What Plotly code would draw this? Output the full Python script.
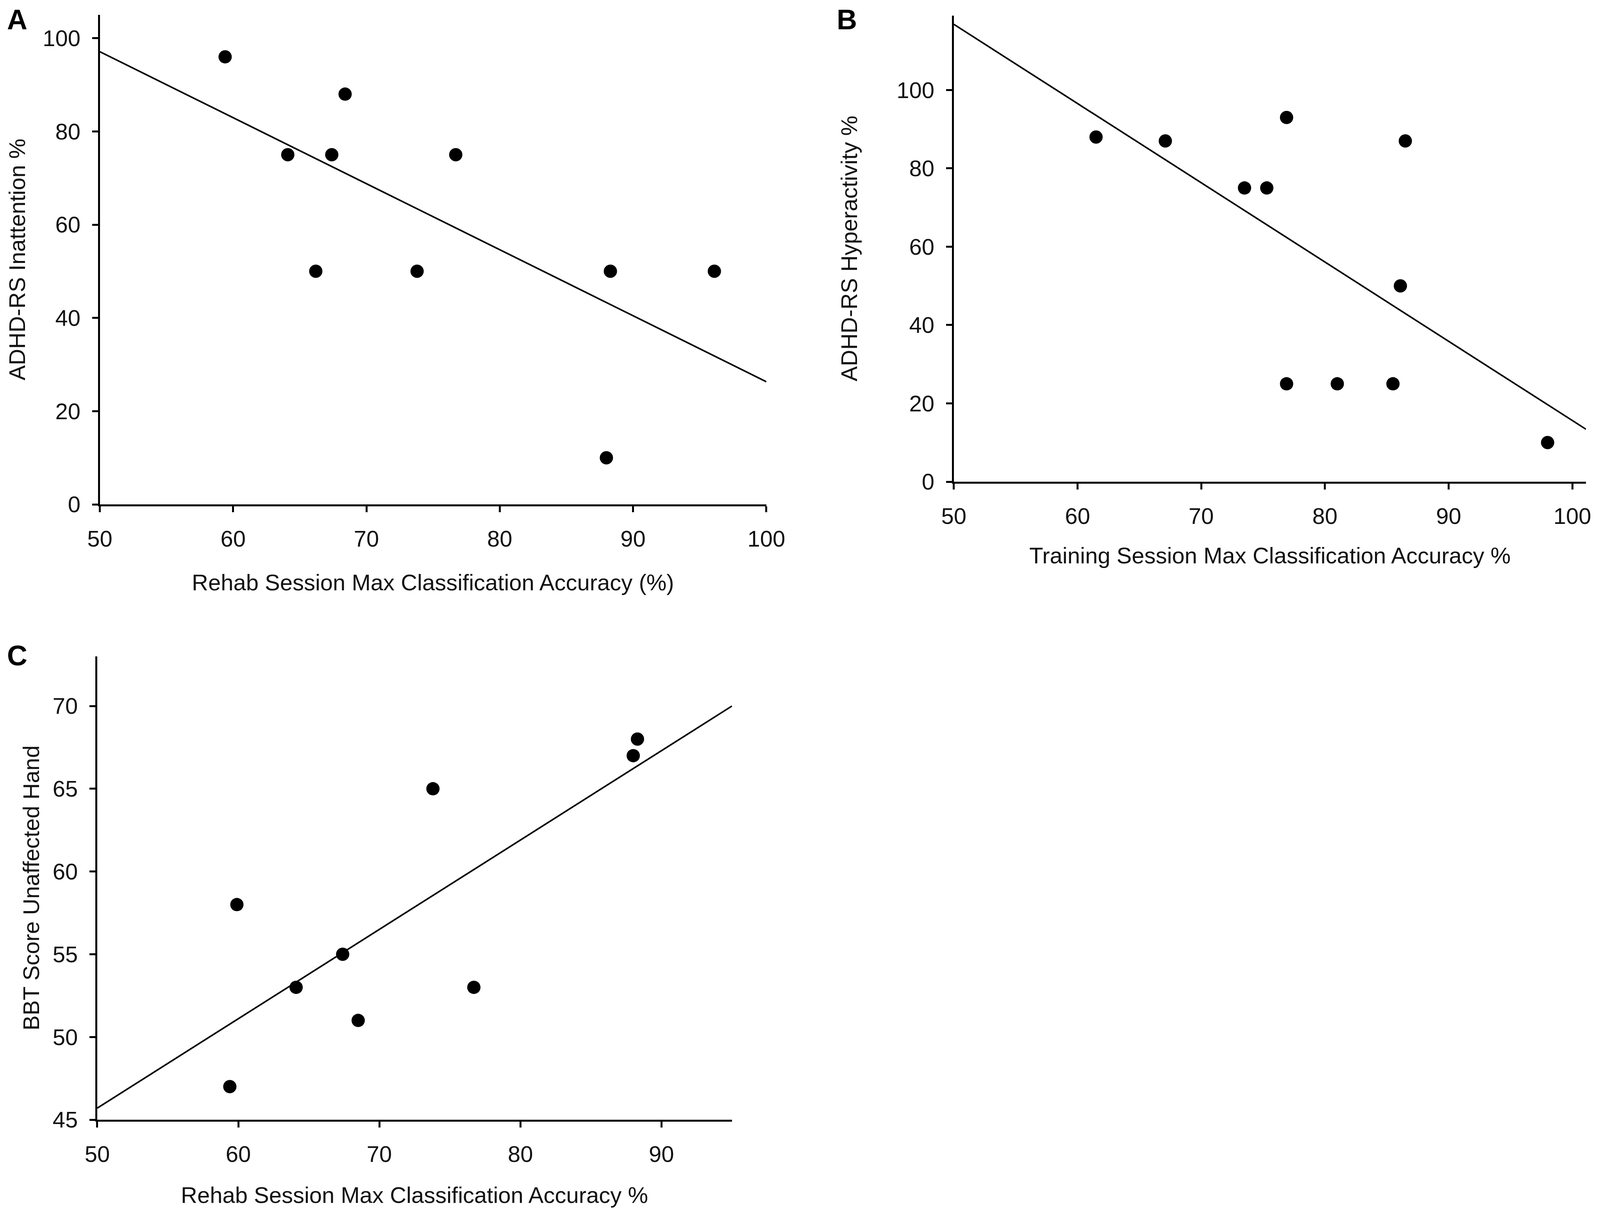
import plotly.graph_objects as go

# Panel A: rehab session accuracy vs ADHD-RS inattention
a_x = [59.4, 64.1, 67.4, 68.4, 66.2, 76.7, 73.8, 88.3, 96.1, 88.0]
a_y = [96, 75, 75, 88, 50, 75, 50, 50, 50, 10]
a_fit_x = [50, 100]
a_fit_y = [97.1, 26.3]

# Panel B: training session accuracy vs ADHD-RS hyperactivity
b_x = [61.5, 67.1, 76.9, 73.5, 75.3, 86.5, 86.1, 76.9, 81.0, 85.5, 98.0]
b_y = [88, 87, 93, 75, 75, 87, 50, 25, 25, 25, 10]
b_fit_x = [50, 101.1]
b_fit_y = [116.8, 13.4]

# Panel C: rehab session accuracy vs BBT score (unaffected hand)
c_x = [59.4, 59.9, 64.1, 67.4, 68.5, 73.8, 76.7, 88.0, 88.3]
c_y = [47, 58, 53, 55, 51, 65, 53, 67, 68]
c_fit_x = [50, 95]
c_fit_y = [45.7, 70.0]

a_ticks_x = [50, 60, 70, 80, 90, 100]
a_ticks_y = [0, 20, 40, 60, 80, 100]
b_ticks_x = [50, 60, 70, 80, 90, 100]
b_ticks_y = [0, 20, 40, 60, 80, 100]
c_ticks_x = [50, 60, 70, 80, 90]
c_ticks_y = [45, 50, 55, 60, 65, 70]

W, H = 4328, 3115
FONT = "Liberation Sans, Arial, sans-serif"

fig = go.Figure()

panels = [
    (a_x, a_y, a_fit_x, a_fit_y, "x", "y"),
    (b_x, b_y, b_fit_x, b_fit_y, "x2", "y2"),
    (c_x, c_y, c_fit_x, c_fit_y, "x3", "y3"),
]
for px_, py_, fx, fy, xa, ya in panels:
    fig.add_trace(go.Scatter(x=fx, y=fy, mode="lines", xaxis=xa, yaxis=ya,
                             line=dict(color="black", width=4), showlegend=False,
                             cliponaxis=False))
    fig.add_trace(go.Scatter(x=px_, y=py_, mode="markers", xaxis=xa, yaxis=ya,
                             marker=dict(color="black", size=34), showlegend=False,
                             cliponaxis=False))


def ax(domain, rng, ticks, anchor):
    return dict(domain=domain, range=rng, tickvals=ticks, anchor=anchor,
                showline=True, linecolor="black", linewidth=5,
                ticks="outside", ticklen=15, tickwidth=5, tickcolor="black",
                showgrid=False, zeroline=False, automargin=False,
                tickfont=dict(family=FONT, size=58, color="#111"),
                ticklabelstandoff=18)


fig.update_layout(
    template="none",
    width=W, height=H, autosize=False,
    margin=dict(l=0, r=0, t=0, b=0, pad=0),
    paper_bgcolor="white", plot_bgcolor="white",
    xaxis=ax([270 / W, 2073 / W], [50, 100], a_ticks_x, "y"),
    yaxis=ax([1 - 1291 / H, 1 - 38 / H], [0, 105], a_ticks_y, "x"),
    xaxis2=ax([2580 / W, 4290 / W], [50, 101.1], b_ticks_x, "y2"),
    yaxis2=ax([1 - 1233 / H, 1 - 40 / H], [0, 119], b_ticks_y, "x2"),
    xaxis3=ax([263 / W, 1980 / W], [50, 95], c_ticks_x, "y3"),
    yaxis3=ax([1 - 2866 / H, 1 - 1680 / H], [45, 73], c_ticks_y, "x3"),
)

title_font = dict(family=FONT, size=58, color="#111")
titles = [
    (1171 / W, 1 - 1490 / H, "Rehab Session Max Classification Accuracy (%)", 0),
    (47 / W, 1 - 664 / H, "ADHD-RS Inattention %", -90),
    (3435 / W, 1 - 1421 / H, "Training Session Max Classification Accuracy %", 0),
    (2296 / W, 1 - 636 / H, "ADHD-RS Hyperactivity %", -90),
    (1121 / W, 1 - 3058 / H, "Rehab Session Max Classification Accuracy %", 0),
    (83 / W, 1 - 2273 / H, "BBT Score Unaffected Hand", -90),
]
for x, y, txt, ang in titles:
    fig.add_annotation(x=x, y=y, xref="paper", yref="paper", text=txt,
                       showarrow=False, textangle=ang, font=title_font,
                       xanchor="center", yanchor="middle")

letters = [(47, 50, "A"), (2291, 50, "B"), (47, 1678, "C")]
for x, y, txt in letters:
    fig.add_annotation(x=x / W, y=1 - y / H, xref="paper", yref="paper",
                       text="<b>" + txt + "</b>", showarrow=False,
                       font=dict(family=FONT, size=72, color="black"),
                       xanchor="center", yanchor="middle")

# fit the figure to the actual viewport (all positions above are fractions)
fit_js = """
var gd = document.getElementById('{plot_id}');
document.body.style.margin = '0px';
document.body.style.overflow = 'hidden';
Plotly.relayout(gd, {width: document.documentElement.clientWidth,
                     height: document.documentElement.clientHeight});
"""
fig.write_html("out.html", post_script=fit_js,
               config={"displayModeBar": False})
